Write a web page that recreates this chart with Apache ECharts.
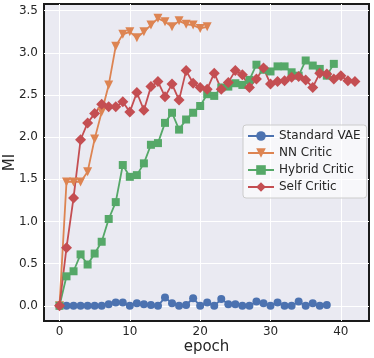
<!DOCTYPE html>
<html>
<head>
<meta charset="utf-8">
<script src="https://cdn.jsdelivr.net/npm/echarts@6/dist/echarts.min.js"></script>
<style>
  html, body { margin: 0; padding: 0; background: #fff; }
  #chart { width: 374px; height: 358px; }
</style>
</head>
<body>
<div id="chart"></div>
<script>
// values, one entry per epoch starting at 0
const standardVae = [0, 0, 0, 0, 0, 0, 0, 0.02, 0.04, 0.04, 0, 0.03, 0.02, 0.01, 0, 0.10, 0.03, 0, 0.01, 0.09,
  0, 0.04, 0, 0.08, 0.02, 0.02, 0, 0, 0.05, 0.03, 0, 0.04, 0, 0, 0.05, 0, 0.03, 0, 0.01]
const nnCritic = [0, 1.47, 1.47, 1.47, 1.59, 1.98, 2.3, 2.62, 3.08, 3.22, 3.25, 3.18, 3.25, 3.33, 3.41, 3.37,
  3.31, 3.38, 3.34, 3.33, 3.29, 3.31]
const hybridCritic = [0, 0.35, 0.41, 0.61, 0.49, 0.62, 0.76, 1.03, 1.23, 1.67, 1.53, 1.55, 1.69, 1.91, 1.93, 2.17,
  2.29, 2.09, 2.21, 2.29, 2.37, 2.51, 2.49, 2.59, 2.60, 2.64, 2.62, 2.68, 2.86, 2.80, 2.78, 2.84, 2.84, 2.77,
  2.73, 2.91, 2.85, 2.81, 2.73, 2.87]
const selfCritic = [0, 0.69, 1.28, 1.97, 2.17, 2.28, 2.39, 2.36, 2.36, 2.42, 2.30, 2.53, 2.32, 2.60, 2.66, 2.48,
  2.63, 2.44, 2.79, 2.64, 2.59, 2.57, 2.76, 2.57, 2.65, 2.79, 2.74, 2.59, 2.69, 2.82, 2.63, 2.66, 2.67, 2.71,
  2.72, 2.68, 2.59, 2.76, 2.75, 2.69, 2.73, 2.67, 2.66]

const xTicks = [0, 10, 20, 30, 40]
const yTicks = [0, 0.5, 1, 1.5, 2, 2.5, 3, 3.5]

const textColor = '#262626'
const font = 'DejaVu Sans'

function pairs (arr) {
  return arr.map((v, i) => [i, v])
}

function makeSeries (name, arr, color, symbol, size, rotate) {
  return {
    name: name,
    type: 'line',
    data: pairs(arr),
    symbol: symbol,
    symbolSize: size,
    symbolRotate: rotate || 0,
    color: color,
    lineStyle: { width: 1.8, color: color },
    itemStyle: { color: color },
    emphasis: { disabled: true },
    animation: false
  }
}

const chart = echarts.init(document.getElementById('chart'))
const option = {
  backgroundColor: '#ffffff',
  textStyle: { fontFamily: font, color: textColor },
  grid: {
    left: 44,
    right: 5,
    top: 4,
    bottom: 37,
    outerBoundsMode: 'none',
    containLabel: false,
    show: true,
    backgroundColor: '#eaeaf2',
    borderColor: '#1a1a1a',
    borderWidth: 2
  },
  xAxis: {
    type: 'value',
    min: -2.2,
    max: 44,
    name: 'epoch',
    nameLocation: 'middle',
    nameGap: 19,
    nameMoveOverlap: false,
    nameTextStyle: { fontSize: 15, color: textColor, fontFamily: font },
    axisLine: { show: false },
    axisTick: { show: false, customValues: xTicks },
    axisLabel: { customValues: xTicks, fontSize: 12, color: textColor, fontFamily: font, margin: 5 },
    splitLine: { show: true, lineStyle: { color: '#ffffff', width: 1 } }
  },
  yAxis: {
    type: 'value',
    min: -0.18,
    max: 3.58,
    name: 'MI',
    nameLocation: 'middle',
    nameGap: 26,
    nameMoveOverlap: false,
    nameTextStyle: { fontSize: 15, color: textColor, fontFamily: font },
    axisLine: { show: false },
    axisTick: { show: false, customValues: yTicks },
    axisLabel: {
      customValues: yTicks,
      fontSize: 12,
      color: textColor,
      fontFamily: font,
      margin: 6,
      formatter: v => v.toFixed(1)
    },
    splitLine: { show: true, lineStyle: { color: '#ffffff', width: 1 } }
  },
  legend: {
    left: 243,
    top: 125,
    orient: 'vertical',
    itemWidth: 26,
    itemHeight: 12,
    itemGap: 5,
    padding: [5, 6, 5, 4],
    backgroundColor: 'rgba(255,255,255,0.6)',
    borderColor: '#cccccc',
    borderWidth: 1,
    borderRadius: 3,
    textStyle: { fontSize: 12, color: textColor, fontFamily: font },
    data: ['Standard VAE', 'NN Critic', 'Hybrid Critic', 'Self Critic']
  },
  series: [
    makeSeries('Standard VAE', standardVae, '#4c72b0', 'circle', 8),
    makeSeries('NN Critic', nnCritic, '#dd8452', 'triangle', 9, 180),
    makeSeries('Hybrid Critic', hybridCritic, '#55a868', 'rect', 8),
    makeSeries('Self Critic', selfCritic, '#c44e52', 'diamond', 11)
  ]
}
chart.setOption(option)
</script>
</body>
</html>
